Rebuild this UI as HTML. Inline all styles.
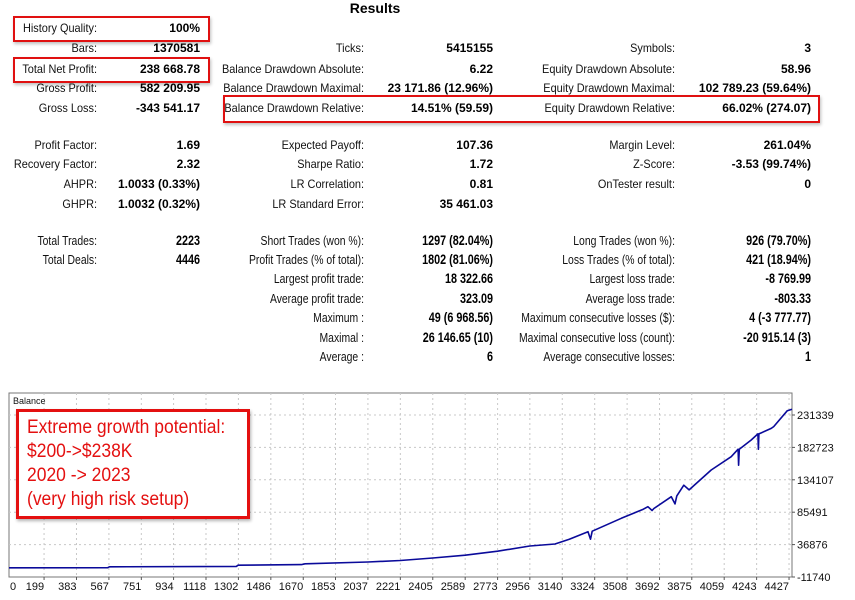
<!DOCTYPE html>
<html><head><meta charset="utf-8">
<style>
body{margin:0;background:#fff;width:855px;height:600px;overflow:hidden;position:relative;font-family:"Liberation Sans",sans-serif;color:#000}
.t{position:absolute;white-space:nowrap;line-height:14px;height:14px}
.l{font-size:12px;color:#111;text-align:right;transform:scaleX(0.91);transform-origin:100% 50%}
.v{font-size:12px;font-weight:bold;text-align:right}
.n{transform:scaleX(0.8);transform-origin:100% 50%}
.box{position:absolute;border:2px solid #e01010;box-shadow:1px 2px 3px rgba(0,0,0,0.25)}
</style></head><body>
<div class="t" style="left:330px;top:1px;font-size:14px;font-weight:bold;width:90px;text-align:center">Results</div>
<div id="tbl"></div>
<div class="box" style="left:13px;top:16px;width:193px;height:22px"></div>
<div class="box" style="left:13px;top:57px;width:193px;height:22px"></div>
<div class="box" style="left:223px;top:95px;width:593px;height:24px"></div>

<svg id="chart" style="position:absolute;left:0;top:0" width="855" height="600"></svg>

<div style="position:absolute;left:16px;top:409px;width:220px;height:100px;border:3px solid #e41010;box-shadow:1px 2px 3px rgba(0,0,0,0.3);background:#fff;color:#e41010;font-size:19px;line-height:24px;padding:4px 0 0 8px;box-sizing:content-box">
<div style="transform:scaleX(0.92);transform-origin:0 50%">Extreme growth potential:</div>
<div style="transform:scaleX(0.92);transform-origin:0 50%">$200-&gt;$238K</div>
<div style="transform:scaleX(0.92);transform-origin:0 50%">2020 -&gt; 2023</div>
<div style="transform:scaleX(0.92);transform-origin:0 50%">(very high risk setup)</div>
</div>

<script>
const rowsTop = [
 [28,"History Quality:","100%",null,null,null,null],
 [48,"Bars:","1370581","Ticks:","5415155","Symbols:","3"],
 [69,"Total Net Profit:","238 668.78","Balance Drawdown Absolute:","6.22","Equity Drawdown Absolute:","58.96"],
 [88,"Gross Profit:","582 209.95","Balance Drawdown Maximal:","23 171.86 (12.96%)","Equity Drawdown Maximal:","102 789.23 (59.64%)"],
 [108,"Gross Loss:","-343 541.17","Balance Drawdown Relative:","14.51% (59.59)","Equity Drawdown Relative:","66.02% (274.07)"],
 [145,"Profit Factor:","1.69","Expected Payoff:","107.36","Margin Level:","261.04%"],
 [164,"Recovery Factor:","2.32","Sharpe Ratio:","1.72","Z-Score:","-3.53 (99.74%)"],
 [184,"AHPR:","1.0033 (0.33%)","LR Correlation:","0.81","OnTester result:","0"],
 [204,"GHPR:","1.0032 (0.32%)","LR Standard Error:","35 461.03",null,null]
];
const rowsBot = [
 [241,"Total Trades:","2223","Short Trades (won %):","1297 (82.04%)","Long Trades (won %):","926 (79.70%)"],
 [260,"Total Deals:","4446","Profit Trades (% of total):","1802 (81.06%)","Loss Trades (% of total):","421 (18.94%)"],
 [279,null,null,"Largest profit trade:","18 322.66","Largest loss trade:","-8 769.99"],
 [299,null,null,"Average profit trade:","323.09","Average loss trade:","-803.33"],
 [318,null,null,"Maximum :","49 (6 968.56)","Maximum consecutive losses ($):","4 (-3 777.77)"],
 [338,null,null,"Maximal :","26 146.65 (10)","Maximal consecutive loss (count):","-20 915.14 (3)"],
 [357,null,null,"Average :","6","Average consecutive losses:","1"]
];
const rightEdges=[97,200,364,493,675,811];
const tbl=document.getElementById('tbl');
function put(rows,narrow){
 rows.forEach(r=>{
  for(let i=1;i<7;i++){
   if(r[i]===null) continue;
   const d=document.createElement('div');
   d.className='t '+(i%2?'l':'v')+(narrow?' n':'');
   if(narrow) d.style.fontSize=(i%2?'13px':'13.5px');
   d.style.width='300px';
   d.style.left=(rightEdges[i-1]-300)+'px';
   d.style.top=(r[0]-7)+'px';
   d.textContent=r[i];
   
   
   tbl.appendChild(d);
  }
 });
}
put(rowsTop,false);put(rowsBot,true);

// ---- chart ----
const xTicks=[0,199,383,567,751,934,1118,1302,1486,1670,1853,2037,2221,2405,2589,2773,2956,3140,3324,3508,3692,3875,4059,4243,4427];
const yTicks=[-11740,36876,85491,134107,182723,231339];
const tradeNums=[0,560,570,1290,1300,1660,1680,2037,2221,2405,2589,2773,2956,3099,3180,3286,3300,3310,3475,3600,3626,3650,3660,3759,3780,3790,3830,3860,3985,4099,4138,4141,4145,4212,4250,4253,4256,4326,4340,4417,4444];
const balances=[2000,2200,3500,4200,6000,6800,8000,10800,13000,16800,21000,27000,34800,37800,45000,56200,45000,57000,76300,90000,93700,88000,91000,108700,98000,110000,126000,119000,148800,168800,180000,156000,180000,193800,203000,180000,203000,211300,214000,237800,240000];
const L=9,R=792,T=393,B=577;
const xs=v=>L+v*0.1762;
const ys=v=>B-(v-(-11740))/48616*32.4;
const svg=document.getElementById('chart');
const NS='http://www.w3.org/2000/svg';
function el(tag,attrs){const e=document.createElementNS(NS,tag);for(const k in attrs)e.setAttribute(k,attrs[k]);svg.appendChild(e);return e;}
let e=el('rect',{x:L,y:T,width:R-L,height:B-T,fill:'#fff',stroke:'#777','stroke-width':1});


xTicks.forEach((t,i)=>{
 const x=xs(t);
 if(i>0){
  const g=el('line',{x1:x,x2:x,y1:T,y2:B,stroke:'#c8c8c8','stroke-dasharray':'2,3'});
  
  
  const tk=el('line',{x1:x,x2:x,y1:B,y2:B+3,stroke:'#555'});
  
  
 }
 const tx=el('text',{x:i===0?10:x,y:590,'font-size':'11','text-anchor':i===0?'start':'end','font-family':'Liberation Sans, sans-serif',fill:'#111'});
 tx.textContent=t;
 
 
});
yTicks.forEach((t,i)=>{
 const y=ys(t);
 if(i>0){
  const g=el('line',{x1:L,x2:R,y1:y,y2:y,stroke:'#c8c8c8','stroke-dasharray':'2,3'});
  
  
 }
 const tk=el('line',{x1:R,x2:R+3,y1:y,y2:y,stroke:'#555'});
 
 
 const tx=el('text',{x:797,y:y+4,'font-size':'11','font-family':'Liberation Sans, sans-serif',fill:'#111'});
 tx.textContent=t;
 
 
});
const bl=el('text',{x:13,y:404,'font-size':'9','font-family':'Liberation Sans, sans-serif',fill:'#111'});
bl.textContent='Balance';


const pts=tradeNums.map((v,i)=>xs(v).toFixed(1)+','+ys(balances[i]).toFixed(1)).join(' ');
const line=el('polyline',{points:pts,fill:'none',stroke:'#0a0a9a','stroke-width':1.6,'stroke-linejoin':'round'});


</script>
</body></html>
